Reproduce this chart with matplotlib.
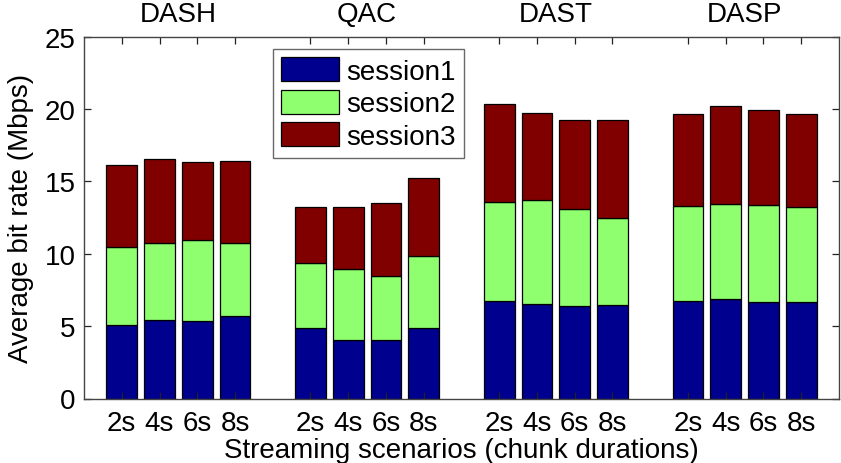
import matplotlib
matplotlib.use("Agg")
import matplotlib.pyplot as plt
import matplotlib.transforms as mtransforms
import numpy as np

plt.rcParams['font.family'] = ['Liberation Sans', 'DejaVu Sans']

groups = ["DASH", "QAC", "DAST", "DASP"]
durations = ["2s", "4s", "6s", "8s"]
session1 = [5.05, 5.42, 5.35, 5.67,
            4.89, 4.02, 4.02, 4.89,
            6.76, 6.55, 6.39, 6.46,
            6.76, 6.85, 6.69, 6.69]
session2 = [5.43, 5.32, 5.62, 5.07,
            4.45, 4.92, 4.44, 4.93,
            6.83, 7.14, 6.70, 6.01,
            6.51, 6.58, 6.67, 6.51]
session3 = [5.65, 5.78, 5.34, 5.64,
            3.86, 4.26, 5.04, 5.39,
            6.77, 6.01, 6.16, 6.78,
            6.40, 6.75, 6.59, 6.47]
series_names = ["session1", "session2", "session3"]
colors = ["#00008F", "#8FFF70", "#800000"]

fig = plt.figure(figsize=(8.41, 4.64), dpi=100)
ax = fig.add_axes([84/841, (464-399.5)/464, (839-84)/841, 362/464])

pos = []
for g in range(len(groups)):
    for d in range(len(durations)):
        pos.append(1 + g*5 + d)
pos = np.array(pos)

bottom = np.zeros(len(pos))
for vals, name, c in zip([session1, session2, session3], series_names, colors):
    ax.bar(pos, vals, width=0.82, bottom=bottom, color=c, edgecolor='black',
           linewidth=0.9, label=name)
    bottom = bottom + np.array(vals)

ax.set_xlim(0, 20)
ax.set_ylim(0, 25)
ax.set_yticks([0, 5, 10, 15, 20, 25])
ax.set_xticks(pos)
ax.set_xticklabels(durations * len(groups))
ax.tick_params(axis='both', direction='in', top=True, right=True, labelsize=20,
               length=5, width=0.9, color='#222222')
ax.tick_params(axis='x', pad=8)
ax.tick_params(axis='y', pad=6)
for s in ax.spines.values():
    s.set_color('#444444')
    s.set_linewidth(1.0)

trans = mtransforms.blended_transform_factory(ax.transData, ax.transAxes)
for g, name in enumerate(groups):
    ax.text(1 + g*5 + 1.5, 1.025, name, transform=trans, ha='center', va='bottom',
            fontsize=20)

ax.set_xlabel("Streaming scenarios (chunk durations)", fontsize=20, labelpad=1)
ax.set_ylabel("Average bit rate (Mbps)", fontsize=20, labelpad=8)

leg = ax.legend(loc='upper left', bbox_to_anchor=(272.7/841, 1 - 50/464),
                bbox_transform=fig.transFigure, fontsize=20, frameon=True,
                fancybox=False, edgecolor='#444444', handlelength=2.1,
                handleheight=0.95, labelspacing=0.18, handletextpad=0.25,
                borderpad=0.3, borderaxespad=0)
leg.get_frame().set_linewidth(1.0)

fig.savefig("out.png", dpi=100)
